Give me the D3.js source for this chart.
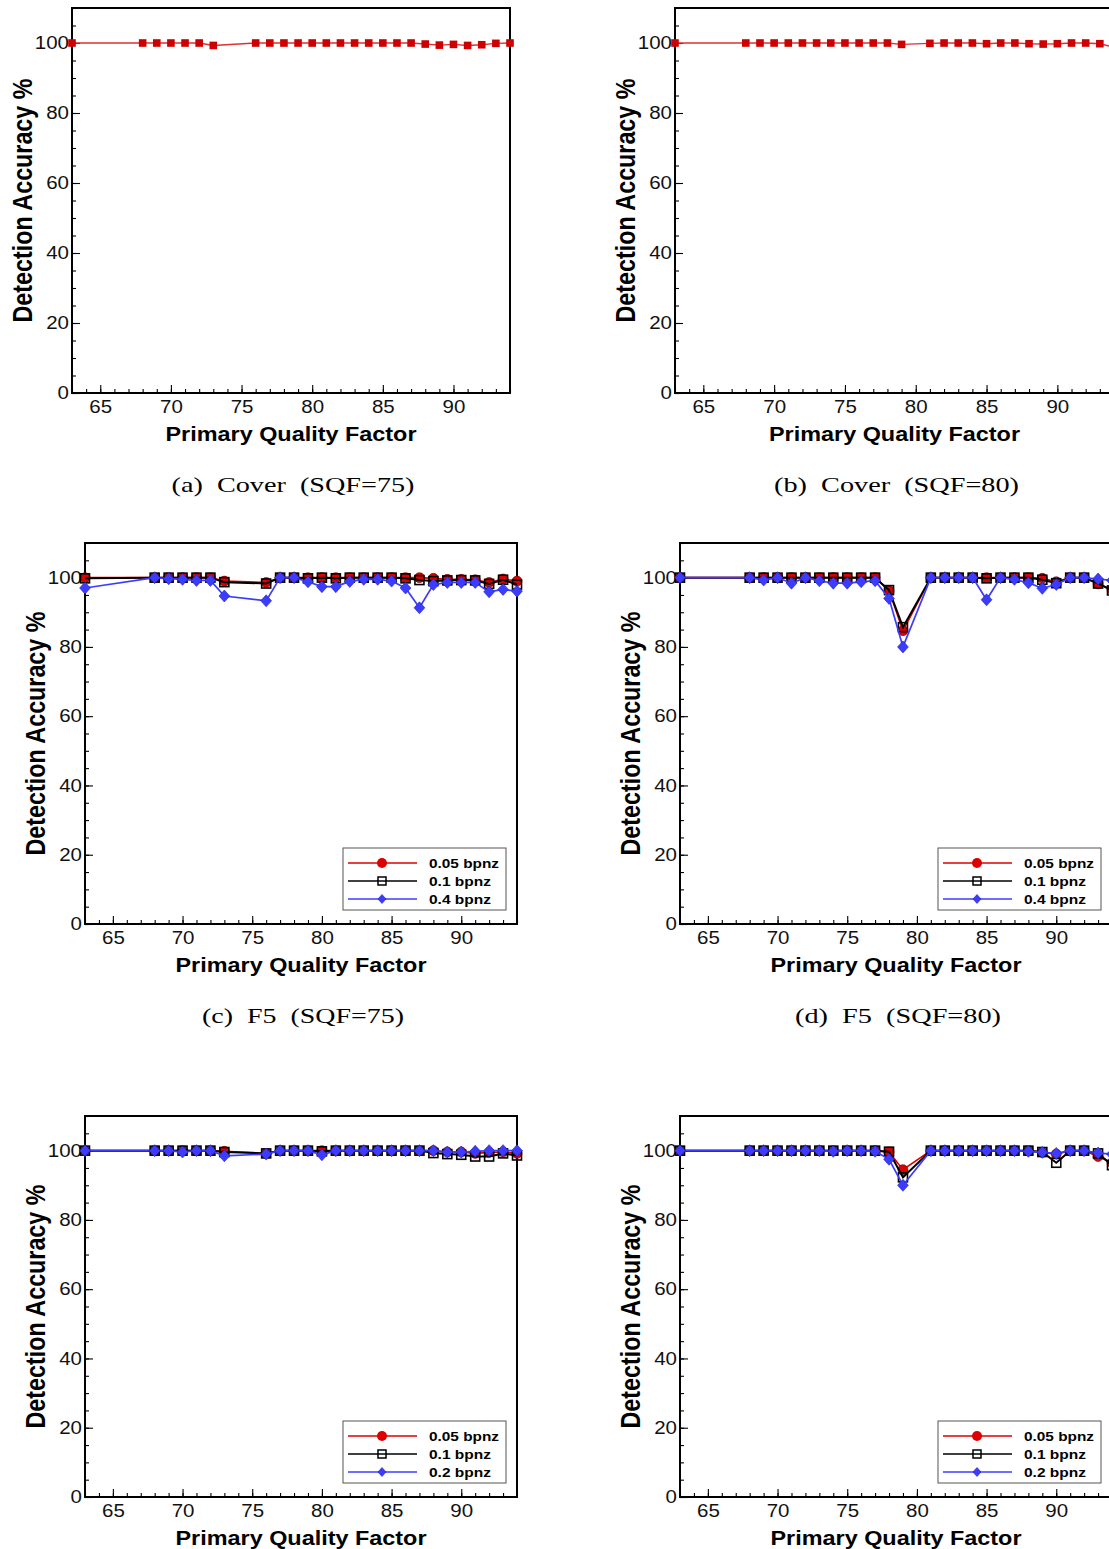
<!DOCTYPE html>
<html><head><meta charset="utf-8">
<script src="https://cdn.jsdelivr.net/npm/d3@7"></script>
<style>body{margin:0;background:#fff;overflow:hidden}svg{display:block}</style>
</head><body>
<script>
// ---------------- DATA ----------------
const xSQF75 = [63,68,69,70,71,72,73,76,77,78,79,80,81,82,83,84,85,86,87,88,89,90,91,92,93,94];
const xSQF80 = [63,68,69,70,71,72,73,74,75,76,77,78,79,81,82,83,84,85,86,87,88,89,90,91,92,93,94];

const coverSQF75 = [100, 100,100,100,100,100, 99.3, 100, 100,100,100,100,100,100,100,100,100,100,100, 99.7,99.4,99.6,99.3,99.5,99.9,100];
const coverSQF80 = [100, 100,100,100,100,100,100,100,100,100,100,100, 99.6, 99.9,100,100,100,99.8,100,100,99.8,99.7,99.8,100,100,99.8,98.8];

const f5SQF75_005 = [100, 100,100,100,100,100, 99, 98.6, 100,100,100,100,100,100,100,100,100,100,100, 99.8,99.5,99.5,99.4,98.6,99.6,99];
const f5SQF75_01  = [99.8, 100,100,100,100,100, 98.7, 98.3, 100,100,99.8,100,99.8,100,100,100,100,99.8,99.3, 99,99.2,99.3,99.2,98.2,99.4,98];
const f5SQF75_04  = [97, 100,99.7,99.5,99.2,99.2, 94.7, 93.3, 100,100,98.8,97.4,97.4,98.9,99.5,99.5,99,97,91.3, 98,98.6,98.6,98.6,95.9,96.6,96.1];

const f5SQF80_005 = [100, 100,100,100,100,100,100,100,100,100,100, 96.2, 84.7, 100,100,100,100,100,100,100,100, 99.8,98.8,100,100,98.2,96.5];
const f5SQF80_01  = [100, 100,100,100,100,100,100,100,100,100,100, 96.4, 85.7, 100,100,100,100,99.8,100,100,100, 99.4,98.4,100,100,98.3,96.3];
const f5SQF80_04  = [100, 100,99.3,100,98.4,100,99.1,98.4,98.4,98.8,99.1, 94, 80, 100,100,100,100,93.6,100,99.5,98.5, 96.9,98,100,100,99.6,99.2];

const nsSQF75_005 = [100, 100,100,100,100,100, 99.8, 99.2, 100,100,100,100,100,100,100,100,100,100,100, 100,99.6,99.6,99.2,99.5,99.6,99.2];
const nsSQF75_01  = [100, 100,100,100,100,100, 99.6, 99.2, 100,100,100,99.8,100,100,100,100,100,100,100, 99.3,99,98.8,98.3,98.3,99.2,98.6];
const nsSQF75_02  = [100, 100,100,99.6,100,100, 98.5, 99, 100,100,100,98.8,100,100,100,100,100,100,100, 100,99.6,99.6,99.8,100,100,100];

const nsSQF80_005 = [100, 100,100,100,100,100,100,100,100,100,100, 99.6, 94.5, 100,100,100,100,100,100,100,100, 99.5,99,100,100,98.3,96.5];
const nsSQF80_01  = [100, 100,100,100,100,100,100,100,100,100,100, 99.7, 92.3, 100,100,100,100,100,100,100,100, 99.6,96.5,100,100,99.2,95.8];
const nsSQF80_02  = [100, 100,100,100,100,100,100,99.8,100,100,99.8, 97.5, 90, 100,100,100,100,100,100,100,99.8, 99.5,99.2,100,100,99.3,99];

const xMajorTicks = [65,70,75,80,85,90];
const yMajorTicks = [0,20,40,60,80,100];
const legendF5 = ["0.05 bpnz","0.1 bpnz","0.4 bpnz"];
const legendNS = ["0.05 bpnz","0.1 bpnz","0.2 bpnz"];
const captionTexts = ["(a)  Cover  (SQF=75)","(b)  Cover  (SQF=80)","(c)  F5  (SQF=75)","(d)  F5  (SQF=80)"];
const xTitle = "Primary Quality Factor";
const yTitle = "Detection Accuracy %";

// ---------------- LAYOUT ----------------
const W = 1109, H = 1549;
const svg = d3.select("body").append("svg").attr("width", W).attr("height", H);
svg.append("rect").attr("width", W).attr("height", H).attr("fill", "#fff");

const RED = "#dd0000", BLUE = "#3c3cff";

const panels = [
  {l:72, r:510, t:8, b:393, xs:xSQF75, cover:coverSQF75, cap:0, capLen:243},
  {l:675, r:1114, t:8, b:393, xs:xSQF80, cover:coverSQF80, cap:1, capLen:245},
  {l:85, r:517, t:543, b:924, xs:xSQF75, series:[f5SQF75_005,f5SQF75_01,f5SQF75_04], legend:legendF5, cap:2, capLen:202},
  {l:680, r:1112, t:543, b:924, xs:xSQF80, series:[f5SQF80_005,f5SQF80_01,f5SQF80_04], legend:legendF5, cap:3, capLen:206},
  {l:85, r:517, t:1116, b:1497, xs:xSQF75, series:[nsSQF75_005,nsSQF75_01,nsSQF75_02], legend:legendNS},
  {l:680, r:1112, t:1116, b:1497, xs:xSQF80, series:[nsSQF80_005,nsSQF80_01,nsSQF80_02], legend:legendNS}
];

function diamond(g, cx, cy, h, fill) {
  g.append("path").attr("d", `M${cx},${cy-h}L${cx+h*0.9},${cy}L${cx},${cy+h}L${cx-h*0.9},${cy}Z`)
    .attr("fill", fill).attr("stroke", "#2020b0").attr("stroke-width", 0.6);
}

panels.forEach(p => {
  const g = svg.append("g");
  const x = d3.scaleLinear().domain([63, 94]).range([p.l, p.r]);
  const y = d3.scaleLinear().domain([0, 110]).range([p.b, p.t]);

  // minor ticks
  g.append("g").attr("transform", `translate(0,${p.b})`)
    .call(d3.axisBottom(x).tickValues(d3.range(63, 95)).tickSize(-4).tickFormat(""))
    .call(a => a.select(".domain").remove());
  g.append("g").attr("transform", `translate(${p.l},0)`)
    .call(d3.axisLeft(y).tickValues(d3.range(0, 111, 5)).tickSize(-4).tickFormat(""))
    .call(a => a.select(".domain").remove());
  // major ticks
  const xa = g.append("g").attr("transform", `translate(0,${p.b})`)
    .call(d3.axisBottom(x).tickValues(xMajorTicks).tickSize(-8).tickPadding(8));
  xa.select(".domain").remove();
  const ya = g.append("g").attr("transform", `translate(${p.l},0)`)
    .call(d3.axisLeft(y).tickValues(yMajorTicks).tickSize(-8).tickPadding(3));
  ya.select(".domain").remove();
  g.selectAll(".tick line").attr("stroke", "#000").attr("stroke-width", 1.1);
  [xa, ya].forEach(a => a.selectAll("text")
    .attr("font-family", "'Liberation Sans', Arial, sans-serif").attr("font-size", 17.5).attr("fill", "#111")
    .attr("textLength", function() { return 11.4 * this.textContent.length; })
    .attr("lengthAdjust", "spacingAndGlyphs"));

  // frame
  g.append("rect").attr("x", p.l).attr("y", p.t).attr("width", p.r - p.l).attr("height", p.b - p.t)
    .attr("fill", "none").attr("stroke", "#000").attr("stroke-width", 2);

  const line = d3.line().x((d, i) => x(p.xs[i])).y(d => y(d));

  if (p.cover) {
    g.append("path").datum(p.cover).attr("d", line).attr("fill", "none").attr("stroke", "#e03030").attr("stroke-width", 1.4);
    g.selectAll(".cm").data(p.cover).enter().append("rect")
      .attr("x", (d, i) => x(p.xs[i]) - 3.8).attr("y", d => y(d) - 3.8)
      .attr("width", 7.6).attr("height", 7.6).attr("fill", "#cc0000");
  } else {
    const [s1, s2, s3] = p.series;
    // red
    g.append("path").datum(s1).attr("d", line).attr("fill", "none").attr("stroke", RED).attr("stroke-width", 1.6);
    g.selectAll(".rc").data(s1).enter().append("circle")
      .attr("cx", (d, i) => x(p.xs[i])).attr("cy", d => y(d)).attr("r", 5)
      .attr("fill", RED).attr("stroke", "#700000").attr("stroke-width", 0.6);
    // black
    g.append("path").datum(s2).attr("d", line).attr("fill", "none").attr("stroke", "#000").attr("stroke-width", 2);
    g.selectAll(".bs").data(s2).enter().append("rect")
      .attr("x", (d, i) => x(p.xs[i]) - 4.5).attr("y", d => y(d) - 4.5)
      .attr("width", 9).attr("height", 9).attr("fill", "none").attr("stroke", "#000").attr("stroke-width", 1.6);
    // blue
    g.append("path").datum(s3).attr("d", line).attr("fill", "none").attr("stroke", BLUE).attr("stroke-width", 1.7);
    s3.forEach((d, i) => diamond(g, x(p.xs[i]), y(d), 6, BLUE));

    // legend
    const bx = p.r - 174, by = p.b - 76;
    const lg = g.append("g");
    lg.append("rect").attr("x", bx).attr("y", by).attr("width", 163).attr("height", 62)
      .attr("fill", "#fff").attr("stroke", "#555").attr("stroke-width", 1);
    const cols = [RED, "#000", BLUE];
    const lens = [70, 62, 62];
    p.legend.forEach((lab, k) => {
      const ry = by + 15 + k * 18;
      lg.append("line").attr("x1", bx + 5).attr("x2", bx + 74).attr("y1", ry).attr("y2", ry)
        .attr("stroke", cols[k]).attr("stroke-width", 1.6);
      if (k === 0) lg.append("circle").attr("cx", bx + 39).attr("cy", ry).attr("r", 5).attr("fill", RED);
      if (k === 1) lg.append("rect").attr("x", bx + 35).attr("y", ry - 4).attr("width", 8).attr("height", 8)
        .attr("fill", "none").attr("stroke", "#000").attr("stroke-width", 1.5);
      if (k === 2) diamond(lg, bx + 39, ry, 4.5, BLUE);
      lg.append("text").attr("x", bx + 86).attr("y", ry + 4.5).text(lab)
        .attr("font-family", "'Liberation Sans', Arial, sans-serif").attr("font-size", 13).attr("font-weight", "bold")
        .attr("textLength", lens[k]).attr("lengthAdjust", "spacingAndGlyphs");
    });
  }

  // axis titles
  const cx = (p.l + p.r) / 2;
  g.append("text").attr("x", cx).attr("y", p.b + 48).attr("text-anchor", "middle").text(xTitle)
    .attr("font-family", "'Liberation Sans', Arial, sans-serif").attr("font-size", 20).attr("font-weight", "bold")
    .attr("textLength", 251).attr("lengthAdjust", "spacingAndGlyphs");
  g.append("text").attr("transform", `translate(${p.l - 40.5},${(p.t + p.b) / 2}) rotate(-90) scale(1,1.17)`)
    .attr("text-anchor", "middle").text(yTitle)
    .attr("font-family", "'Liberation Sans', Arial, sans-serif").attr("font-size", 23).attr("font-weight", "bold")
    .attr("textLength", 244).attr("lengthAdjust", "spacingAndGlyphs");

  if (p.cap !== undefined) {
    g.append("text").attr("x", cx + 2).attr("y", p.b + 99).attr("text-anchor", "middle").text(captionTexts[p.cap])
      .attr("font-family", "'Liberation Serif', 'DejaVu Serif', serif").attr("font-size", 22)
      .attr("xml:space", "preserve").style("white-space", "pre")
      .attr("textLength", p.capLen).attr("lengthAdjust", "spacingAndGlyphs");
  }
});
</script>
</body></html>
